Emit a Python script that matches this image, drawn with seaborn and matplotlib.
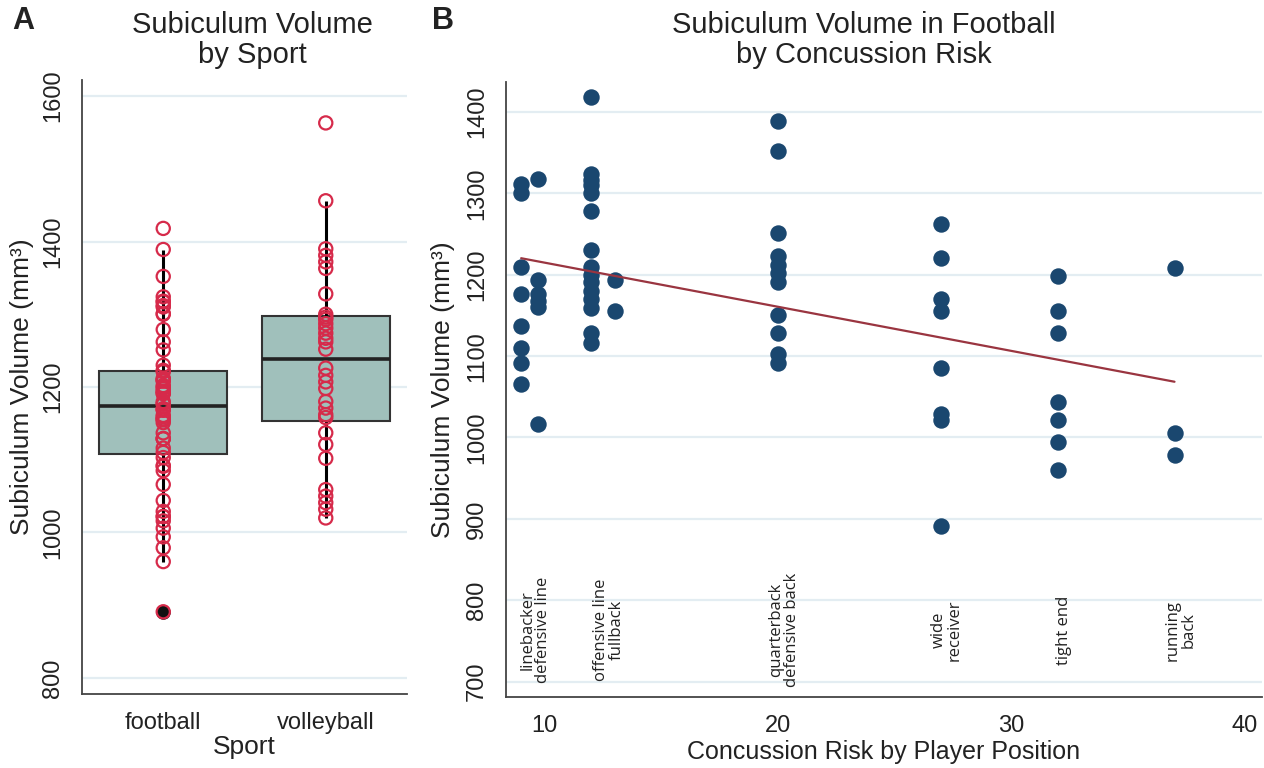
"""
Subiculum volume figure: (A) by sport, (B) football players by concussion risk.
Two panels drawn with seaborn, Stata-like styling.
"""

import numpy as np
import pandas as pd
import matplotlib
matplotlib.use("Agg")
import matplotlib.pyplot as plt
import seaborn as sns

# -------------------------------------------------------------------------------------
# DATA
# -------------------------------------------------------------------------------------
# football players: concussion risk of position (x) and subiculum volume in mm3 (y)
RISK_9 = [1312, 1300, 1210, 1177, 1137, 1110, 1091, 1066]
RISK_9_7 = [1318, 1194, 1177, 1168, 1161, 1016]
RISK_12 = [1418, 1324, 1317, 1310, 1301, 1279, 1230, 1210, 1200, 1191,
           1180, 1170, 1159, 1129, 1116]
RISK_13 = [1194, 1156]
RISK_20 = [1389, 1352, 1251, 1223, 1212, 1202, 1191, 1151, 1129, 1103, 1092]
RISK_27 = [1262, 1221, 1170, 1156, 1085, 1029, 1022, 891]
RISK_32 = [1198, 1155, 1129, 1044, 1022, 994, 960]
RISK_37 = [1208, 1006, 979]

RISK_LEVELS = [9, 9.7, 12, 13, 20, 27, 32, 37]
FOOTBALL_BY_RISK = [RISK_9, RISK_9_7, RISK_12, RISK_13, RISK_20, RISK_27, RISK_32, RISK_37]

VOLLEYBALL = [1563, 1456, 1390, 1381, 1372, 1363, 1328, 1300, 1296, 1293,
              1287, 1281, 1274, 1267, 1262, 1252, 1226, 1216, 1207, 1198,
              1180, 1171, 1162, 1158, 1137, 1121, 1102, 1059, 1050, 1041,
              1032, 1020]

SPORTS = ["football", "volleyball"]

# position names and the risk values they sit over
POSITION_LABELS = ["linebacker\ndefensive line", "offensive line\nfullback",
                   "quarterback\ndefensive back", "wide\nreceiver",
                   "tight end", "running\nback"]
POSITION_RISK = [[9, 9.7], [12, 13], [20], [27], [32], [37]]

# -------------------------------------------------------------------------------------
# STYLE
# -------------------------------------------------------------------------------------
BOX_FILL = "#a0c0bb"
RED = "#d62a4a"
NAVY = "#1a476f"
MAROON = "#9a3540"
GRID = "#e3edf2"
AXIS = "#444444"
TEXT = "#222222"

sns.set_theme(style="white")
plt.rcParams["font.family"] = ["Liberation Sans", "DejaVu Sans"]
plt.rcParams["text.color"] = TEXT
plt.rcParams["axes.labelcolor"] = TEXT
plt.rcParams["xtick.color"] = AXIS
plt.rcParams["ytick.color"] = AXIS
plt.rcParams["xtick.labelcolor"] = TEXT
plt.rcParams["ytick.labelcolor"] = TEXT


def style_axes(ax, yticks):
    """Stata look: left/bottom spines only, outward ticks, rotated y labels, light grid."""
    for side in ["top", "right"]:
        ax.spines[side].set_visible(False)
    for side in ["left", "bottom"]:
        ax.spines[side].set_color(AXIS)
        ax.spines[side].set_linewidth(1.3)
    ax.set_yticks(yticks)
    ax.tick_params(axis="both", direction="out", length=9, width=1.3, labelsize=17)
    ax.tick_params(axis="y", pad=4)
    ax.tick_params(axis="x", pad=4)
    plt.setp(ax.get_yticklabels(), rotation=90, va="center")
    for y in yticks:
        ax.axhline(y, color=GRID, linewidth=1.6, zorder=0)


def build_frames():
    football = [v for vals in FOOTBALL_BY_RISK for v in vals]
    sport_df = pd.DataFrame({
        "sport": ["football"] * len(football) + ["volleyball"] * len(VOLLEYBALL),
        "volume": football + VOLLEYBALL,
    })
    risk_df = pd.DataFrame({
        "risk": [r for r, vals in zip(RISK_LEVELS, FOOTBALL_BY_RISK) for _ in vals],
        "volume": football,
    })
    return sport_df, risk_df


def low_outliers(sport_df):
    """Points below Q1 - 1.5*IQR in each sport (the only outliers filled in the figure)."""
    rows = []
    for sport, grp in sport_df.groupby("sport"):
        q1, q3 = np.percentile(grp["volume"], [25, 75])
        rows.append(grp[grp["volume"] < q1 - 1.5 * (q3 - q1)])
    return pd.concat(rows)


def panel_a(fig, sport_df):
    ax = fig.add_axes([82 / 1264, 1 - 694 / 768, 325 / 1264, 614 / 768])
    sns.boxplot(data=sport_df, x="sport", y="volume", order=SPORTS, width=0.79,
                color=BOX_FILL, saturation=1, linecolor="#333333", linewidth=1.5,
                showcaps=False, showfliers=False,
                whiskerprops=dict(color="black", linewidth=2.2),
                medianprops=dict(color="#222222", linewidth=2.6),
                ax=ax, zorder=2)
    sns.stripplot(data=sport_df, x="sport", y="volume", order=SPORTS, jitter=False,
                  size=9.5, color=RED, edgecolor=RED, linewidth=1.6, ax=ax, zorder=3)
    for coll in ax.collections:
        coll.set_facecolor("none")
        coll.set_edgecolor(RED)
    sns.stripplot(data=low_outliers(sport_df), x="sport", y="volume", order=SPORTS,
                  jitter=False, size=10.5, color="#111111", linewidth=0, ax=ax, zorder=2.5)

    ax.set_xlim(-0.5, 1.5)
    ax.set_ylim(778, 1622)
    style_axes(ax, [800, 1000, 1200, 1400, 1600])
    ax.set_xlabel("Sport", fontsize=19, labelpad=1)
    ax.set_ylabel("Subiculum Volume (mm³)", fontsize=19, labelpad=6)
    fig.text(252 / 1264, 1 - 40 / 768, "Subiculum Volume\nby Sport", fontsize=21,
             ha="center", va="center", linespacing=1.05)
    fig.text(12 / 1264, 1 - 6 / 768, "A", fontsize=22, fontweight="bold", va="top")


def panel_b(fig, risk_df):
    ax = fig.add_axes([506 / 1264, 1 - 697 / 768, 756 / 1264, 615 / 768])
    sns.scatterplot(data=risk_df, x="risk", y="volume", color=NAVY, s=140,
                    linewidth=0, ax=ax, zorder=3)
    sns.regplot(data=risk_df, x="risk", y="volume", scatter=False, ci=None,
                line_kws=dict(color=MAROON, linewidth=1.6, zorder=4), ax=ax)

    ax.set_xlim(8.35, 40.75)
    ax.set_ylim(681, 1437)
    ax.set_xticks([10, 20, 30, 40])
    style_axes(ax, [700, 800, 900, 1000, 1100, 1200, 1300, 1400])
    ax.set_xlabel("Concussion Risk by Player Position", fontsize=18, labelpad=2)
    ax.set_ylabel("Subiculum Volume (mm³)", fontsize=19, labelpad=8)

    for label, risks in zip(POSITION_LABELS, POSITION_RISK):
        ax.text(np.mean(risks) + 0.25, 763, label, rotation=90, ha="center", va="center",
                multialignment="center", fontsize=12, linespacing=1.0,
                family=["Open Sans", "DejaVu Sans"], color=TEXT)

    fig.text(864 / 1264, 1 - 40 / 768, "Subiculum Volume in Football\nby Concussion Risk",
             fontsize=21, ha="center", va="center", linespacing=1.05)
    fig.text(432 / 1264, 1 - 6 / 768, "B", fontsize=22, fontweight="bold", va="top")


def main():
    sport_df, risk_df = build_frames()
    fig = plt.figure(figsize=(12.64, 7.68), dpi=100)
    panel_a(fig, sport_df)
    panel_b(fig, risk_df)
    fig.savefig("out.png", dpi=100, facecolor="white")
    plt.close(fig)


if __name__ == "__main__":
    main()
